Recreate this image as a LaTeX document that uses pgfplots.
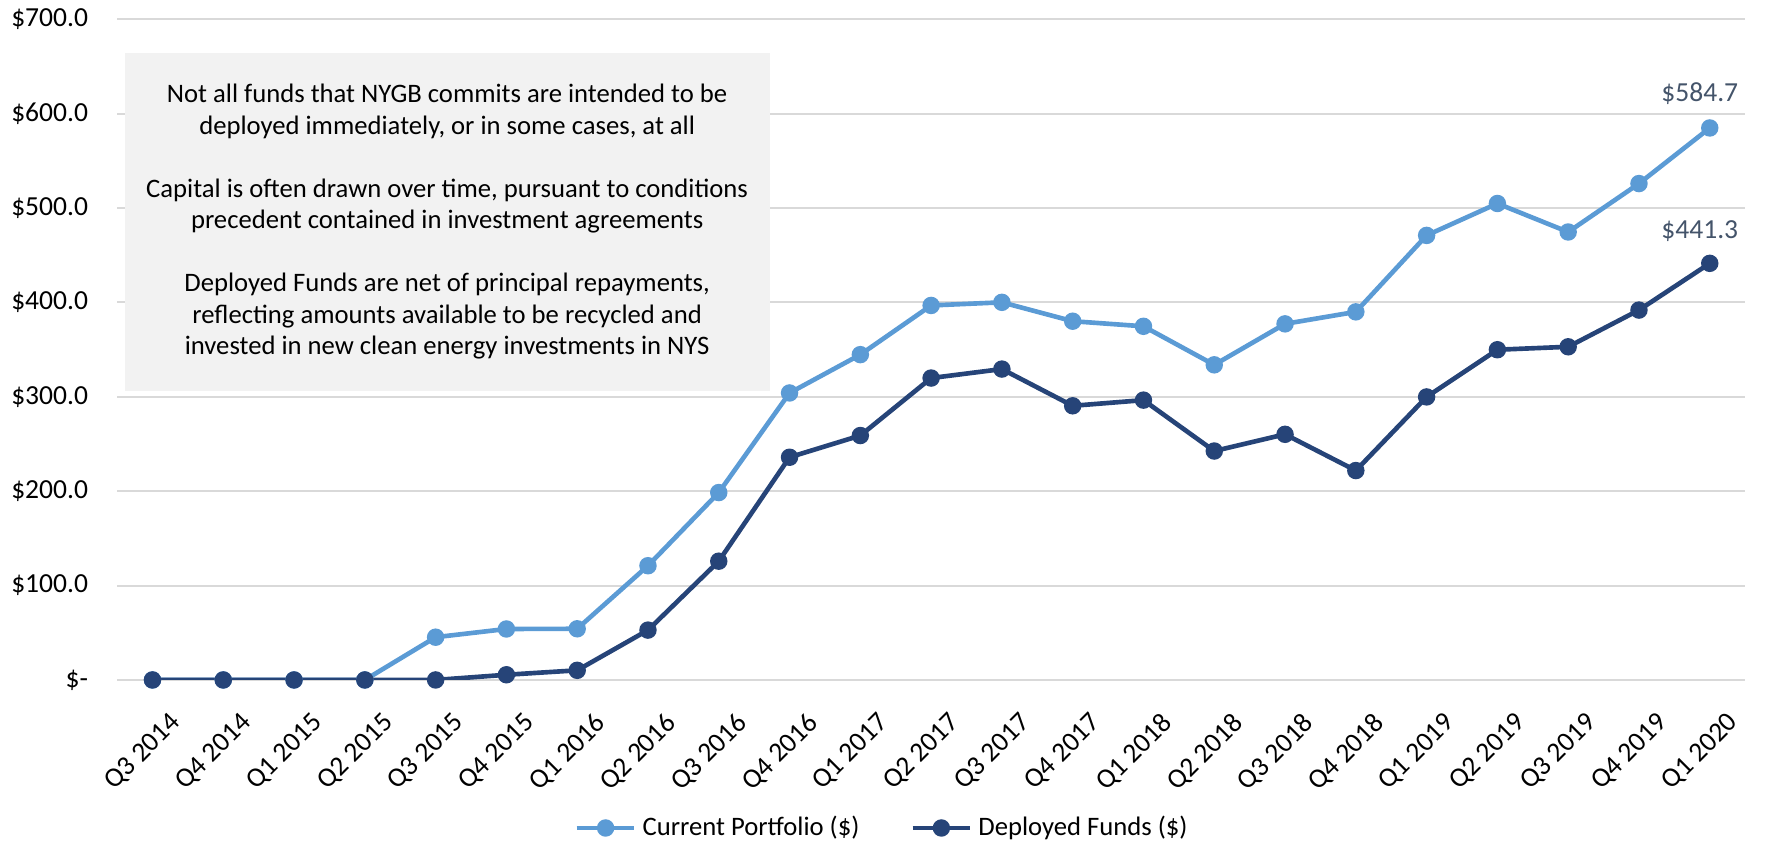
\documentclass[border=0pt]{standalone}
\usepackage{fontspec}
\setmainfont{Carlito}
\usepackage{pgfplots}
\usepackage{pgfplotstable}
\pgfplotsset{compat=1.18}

\definecolor{lightblue}{HTML}{5B9BD5}
\definecolor{darkblue}{HTML}{264478}
\definecolor{labelgray}{HTML}{44546A}
\definecolor{boxgray}{HTML}{F2F2F2}
\definecolor{gridgray}{HTML}{D9D9D9}

% quarter index, current portfolio, deployed funds ($M)
\pgfplotstableread{
q  cp     df
0  0      0
1  0      0
2  0      0
3  0      0
4  45.3   0
5  54.0   5.5
6  54.2   10.2
7  121.0  52.8
8  198.5  125.8
9  304.0  235.9
10 344.6  258.9
11 396.7  319.8
12 400.0  329.3
13 380.0  290.4
14 374.6  296.4
15 333.8  242.5
16 377.2  260.2
17 389.9  221.8
18 470.9  299.8
19 504.7  349.8
20 474.5  352.9
21 525.8  391.8
22 584.7  441.3
}\datatable

\begin{document}
\begin{tikzpicture}
\begin{axis}[
    name=ax, at={(0,0)}, anchor=south west,
    scale only axis,
    width=561.7pt, height=228pt,
    xmin=-0.5, xmax=22.5,
    ymin=0, ymax=700,
    xtick={0,...,22},
    xticklabels={Q3 2014,Q4 2014,Q1 2015,Q2 2015,Q3 2015,Q4 2015,Q1 2016,Q2 2016,Q3 2016,Q4 2016,Q1 2017,Q2 2017,Q3 2017,Q4 2017,Q1 2018,Q2 2018,Q3 2018,Q4 2018,Q1 2019,Q2 2019,Q3 2019,Q4 2019,Q1 2020},
    ytick={0,100,...,700},
    yticklabels={\$-,\$100.0,\$200.0,\$300.0,\$400.0,\$500.0,\$600.0,\$700.0},
    ymajorgrids,
    grid style={gridgray, line width=0.7pt},
    axis line style={draw=none},
    major tick length=0pt,
    tick label style={font=\fontsize{9.5}{11}\selectfont, black},
    yticklabel style={xshift=-6.5pt},
    xticklabel shift=3pt,
    xticklabel style={rotate=45, anchor=north east, yshift=-6pt, xshift=2pt},
    legend style={at={(0.471,-0.224)}, anchor=center, draw=none,
        font=\fontsize{9.2}{11}\selectfont, legend columns=2,
        /tikz/every even column/.append style={column sep=15.5pt}},
    legend cell align=left,
    legend image code/.code={%
        \draw[mark repeat=2, mark phase=2, #1]
            plot coordinates {(0cm,0cm) (0.35cm,0cm) (0.7cm,0cm)};},
]
\node[fill=boxgray, anchor=south west, minimum width=222.5pt, minimum height=116.6pt,
      align=center, inner sep=0pt, font=\fontsize{9.2}{10.87}\selectfont]
    at (rel axis cs:0.0043,0.437)
    {Not all funds that NYGB commits are intended to be\\
     deployed immediately, or in some cases, at all\\[10.87pt]
     Capital is often drawn over time, pursuant to conditions\\
     precedent contained in investment agreements\\[10.87pt]
     Deployed Funds are net of principal repayments,\\
     reflecting amounts available to be recycled and\\
     invested in new clean energy investments in NYS};

\addplot[lightblue, line width=1.6pt, mark=*, mark size=2.2pt] table[x=q, y=cp] {\datatable};
\addplot[darkblue, line width=1.6pt, mark=*, mark size=2.2pt] table[x=q, y=df] {\datatable};
\legend{Current Portfolio (\$), Deployed Funds (\$)}

\node[anchor=base east, text=labelgray, font=\fontsize{9.5}{11}\selectfont, inner sep=0pt]
    at ([xshift=10pt, yshift=9pt]axis cs:22,584.7) {\$584.7};
\node[anchor=base east, text=labelgray, font=\fontsize{9.5}{11}\selectfont, inner sep=0pt]
    at ([xshift=10pt, yshift=8.5pt]axis cs:22,441.3) {\$441.3};
\end{axis}
\pgfresetboundingbox
\path[use as bounding box] (ax.south west) ++(-40.4pt,-55.9pt) rectangle ++(609.3pt,290.5pt);
\end{tikzpicture}
\end{document}
